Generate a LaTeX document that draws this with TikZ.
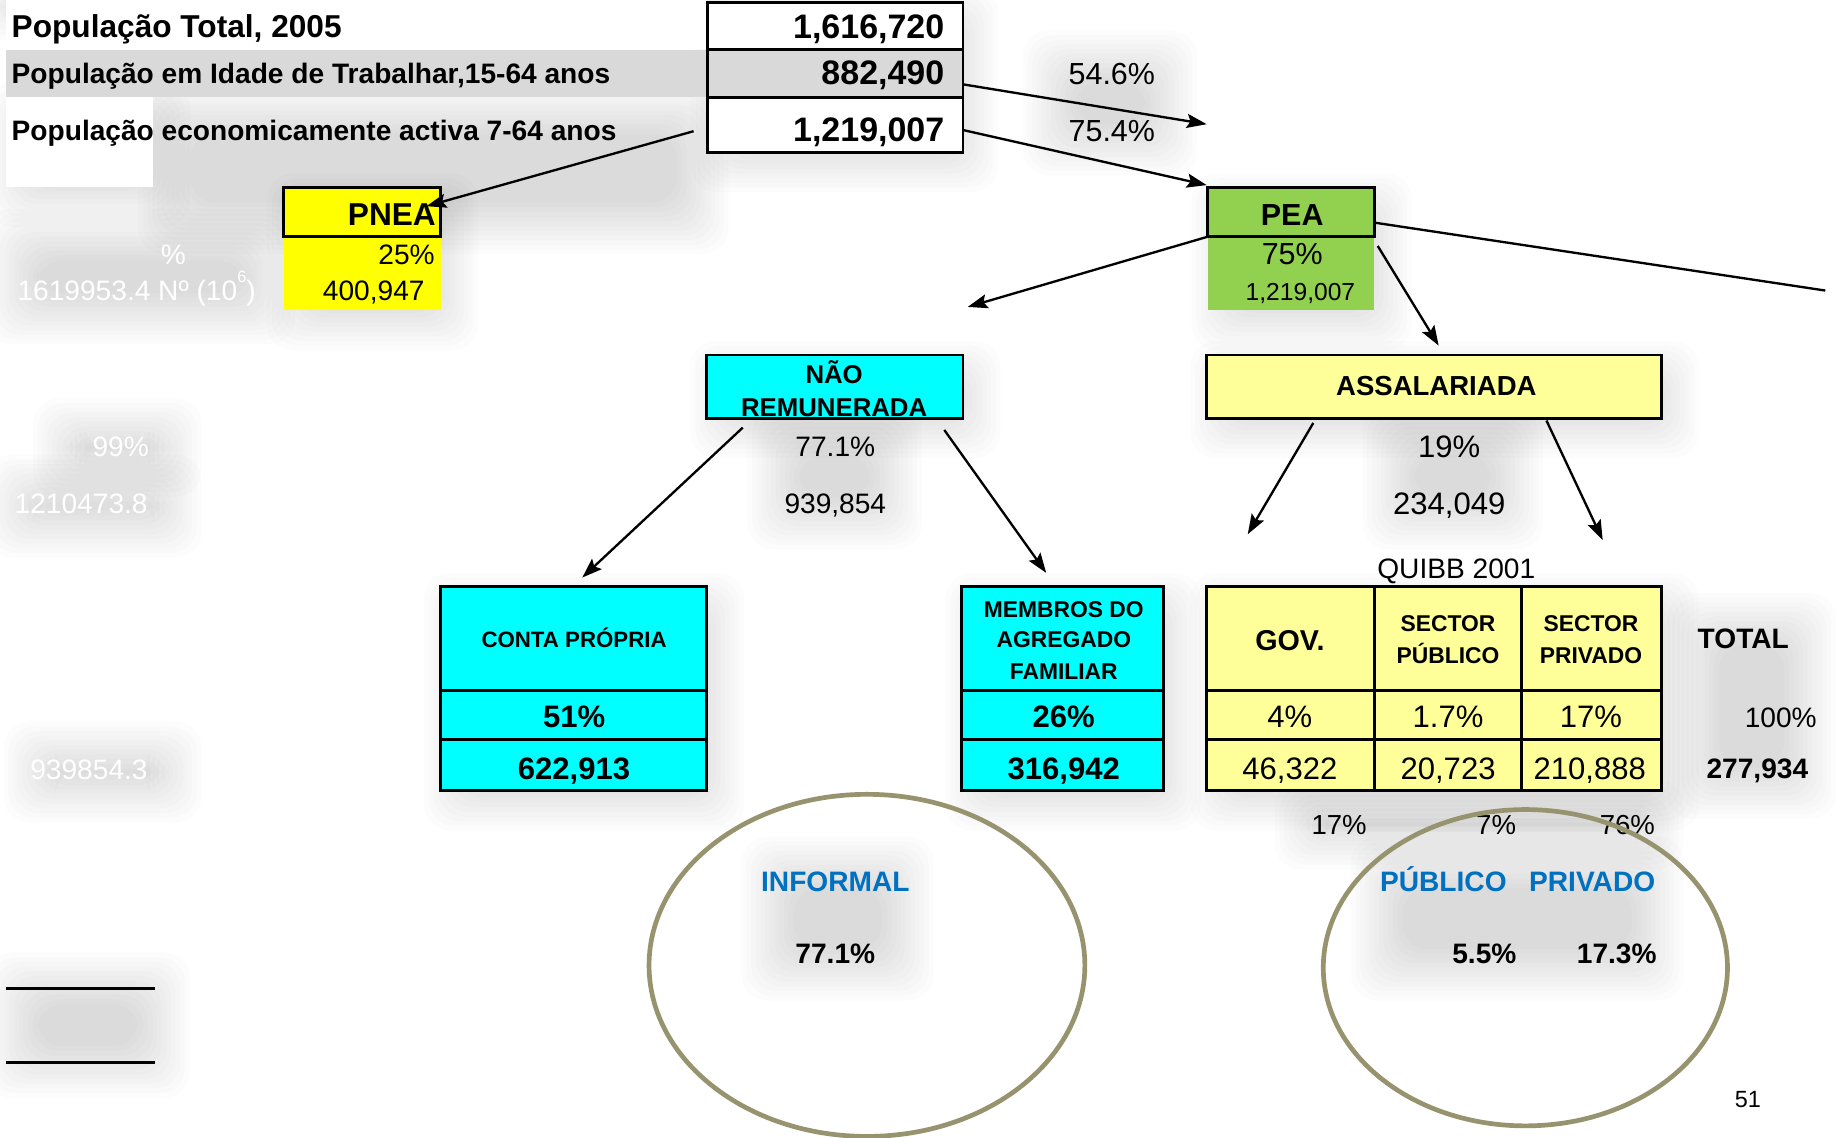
\documentclass[tikz,border=0pt]{standalone}
\usepackage{fontspec}
\setmainfont{Liberation Sans}
\usetikzlibrary{arrows.meta,shapes.geometric}
\definecolor{cybox}{HTML}{00FFFF}
\definecolor{yebox}{HTML}{FFFF00}
\definecolor{lybox}{HTML}{FFFF99}
\definecolor{grbox}{HTML}{92D050}
\definecolor{gyband}{HTML}{D9D9D9}
\definecolor{ringc}{HTML}{96936E}
\definecolor{bluet}{HTML}{0070C0}
\newcommand{\myfs}[1]{\fontsize{#1}{#1}\selectfont}
\newcommand{\sshadow}[4]{%
  \foreach \d in {0,...,11}{%
    \fill[black,opacity=0.012,rounded corners=22pt] ({#1+\d*4-22},{#2+\d*4-22}) rectangle ({#3-\d*4+22},{#4-\d*4+22});
  }}
\begin{document}
\begin{tikzpicture}[x=1pt,y=-1pt,
  every node/.style={inner sep=0pt,outer sep=0pt},
  boxst/.style={draw=black,line width=2.5pt},
  arr/.style={-{Stealth[length=17pt,width=12pt,inset=3pt]},line width=2pt},
  ringst/.style={draw=ringc,line width=4pt,ellipse},
  bl/.style={font=\myfs{#1}\bfseries,text height={0.72*#1},text depth=0pt},
  rg/.style={font=\myfs{#1},text height={0.72*#1},text depth=0pt},
  wt/.style={font=\myfs{#1},text=white,text height={0.72*#1},text depth=0pt}]
\useasboundingbox (0,0) rectangle (1568,971);
\fill[white] (0,0) rectangle (1568,971);
% ---------- soft shadows ----------
\sshadow{0}{0}{600}{12}
\sshadow{140}{92}{600}{195}
\sshadow{12}{92}{140}{172}
\sshadow{612}{10}{830}{142}
\sshadow{250}{170}{386}{277}
\sshadow{10}{200}{230}{272}
\sshadow{50}{362}{150}{402}
\sshadow{10}{410}{150}{454}
\sshadow{25}{638}{150}{680}
\sshadow{1039}{170}{1183}{277}
\sshadow{611}{313}{832}{369}
\sshadow{1038}{313}{1428}{369}
\sshadow{384}{511}{613}{687}
\sshadow{829}{511}{1003}{687}
\sshadow{1038}{511}{1428}{687}
\sshadow{1445}{528}{1545}{677}
\sshadow{10}{835}{140}{915}
\sshadow{895}{48}{1000}{128}
\sshadow{660}{366}{765}{447}
\sshadow{1185}{366}{1295}{447}
\sshadow{655}{736}{775}{832}
\sshadow{1175}{736}{1415}{832}
\sshadow{1110}{688}{1415}{720}
% ---------- top table ----------
\fill[white] (5,0) rectangle (603,42);
\fill[gyband] (5,43) rectangle (603,83);
\fill[white] (5,83) rectangle (131,160);
\node[anchor=west,bl=27] (r1) at (10,22) {População Total, 2005};
\node[anchor=west,bl=24] (r2) at (10,63) {População em Idade de Trabalhar,15-64 anos};
\node[anchor=west,bl=24] (r3) at (10,111) {População economicamente activa 7-64 anos};
\node[boxst,fill=white,minimum width=218,minimum height=40] (v1) at (713,22) {};
\node[boxst,fill=gyband,minimum width=218,minimum height=41] (v2) at (713,62.5) {};
\node[boxst,fill=white,minimum width=218,minimum height=47] (v3) at (713,106.5) {};
\node[anchor=east,bl=29] (v1t) at (806,22) {1,616,720};
\node[anchor=east,bl=29] (v2t) at (806,62) {882,490};
\node[anchor=east,bl=29] (v3t) at (806,110) {1,219,007};
\node[rg=26] (p546) at (949,63) {54.6\%};
\node[rg=26] (p754) at (949,111) {75.4\%};
% ---------- PNEA ----------
\fill[yebox] (242,202) rectangle (376,265);
\node[boxst,fill=yebox,minimum width=134,minimum height=42] (pnea) at (309,181) {};
\node[anchor=east,bl=27] (pneat) at (372,183) {PNEA};
\node[anchor=east,rg=24] (pnea1) at (371,217) {25\%};
\node[rg=24] (pnea2) at (319,248) {400,947};
% white labels
\node[wt=24] (w1) at (148,217) {\%};
\node[anchor=west,wt=24] (w2) at (15,248) {1619953.4 Nº (10\raisebox{1.2ex}{\myfs{14}6})};
\node[wt=24] (w3) at (103,381) {99\%};
\node[anchor=east,wt=24] (w4) at (126,430) {1210473.8};
\node[anchor=east,wt=24] (w5) at (126,657) {939854.3};
% ---------- PEA ----------
\fill[grbox] (1031,202) rectangle (1173,265);
\node[boxst,fill=grbox,minimum width=142,minimum height=42] (pea) at (1102,181) {};
\node[bl=26] (peat) at (1103,183) {PEA};
\node[rg=26] (pea1) at (1103,216) {75\%};
\node[rg=21] (pea2) at (1110,249) {1,219,007};
% ---------- NR / ASS ----------
\node[boxst,fill=cybox,minimum width=219,minimum height=54] (nr) at (712.5,330) {};
\node[bl=22] (nrt1) at (712,319) {NÃO};
\node[bl=22] (nrt2) at (712,348) {REMUNERADA};
\node[rg=24] (nr1) at (713,381) {77.1\%};
\node[rg=24] (nr2) at (713,430) {939,854};
\node[boxst,fill=lybox,minimum width=388,minimum height=54] (ass) at (1224,330) {};
\node[bl=23.5] (asst) at (1226,329) {ASSALARIADA};
\node[rg=26.5] (ass1) at (1237,381) {19\%};
\node[rg=26.5] (ass2) at (1237,430) {234,049};
\node[rg=24] (quibb) at (1243,485) {QUIBB 2001};
% ---------- CONTA PROPRIA ----------
\node[boxst,fill=cybox,minimum width=227,minimum height=88] (cp1) at (489.5,545) {};
\node[boxst,fill=cybox,minimum width=227,minimum height=42] (cp2) at (489.5,610) {};
\node[boxst,fill=cybox,minimum width=227,minimum height=44] (cp3) at (489.5,653) {};
\node[bl=19] (cp1t) at (490,546) {CONTA PRÓPRIA};
\node[bl=26.5] (cp2t) at (490,611) {51\%};
\node[bl=26.5] (cp3t) at (490,656) {622,913};
% ---------- MEMBROS ----------
\node[boxst,fill=cybox,minimum width=172,minimum height=88] (mb1) at (907,545) {};
\node[boxst,fill=cybox,minimum width=172,minimum height=42] (mb2) at (907,610) {};
\node[boxst,fill=cybox,minimum width=172,minimum height=44] (mb3) at (907,653) {};
\node[bl=19.5] (mb1a) at (908,520) {MEMBROS DO};
\node[bl=19.5] (mb1b) at (908,546) {AGREGADO};
\node[bl=19.5] (mb1c) at (908,573) {FAMILIAR};
\node[bl=26.5] (mb2t) at (908,611) {26\%};
\node[bl=26.5] (mb3t) at (908,656) {316,942};
% ---------- yellow table ----------
\node[boxst,fill=lybox,minimum width=143,minimum height=88] (g1) at (1101.5,545) {};
\node[boxst,fill=lybox,minimum width=143,minimum height=42] (g2) at (1101.5,610) {};
\node[boxst,fill=lybox,minimum width=143,minimum height=44] (g3) at (1101.5,653) {};
\node[boxst,fill=lybox,minimum width=126,minimum height=88] (s1) at (1236,545) {};
\node[boxst,fill=lybox,minimum width=126,minimum height=42] (s2) at (1236,610) {};
\node[boxst,fill=lybox,minimum width=126,minimum height=44] (s3) at (1236,653) {};
\node[boxst,fill=lybox,minimum width=119,minimum height=88] (q1) at (1358.5,545) {};
\node[boxst,fill=lybox,minimum width=119,minimum height=42] (q2) at (1358.5,610) {};
\node[boxst,fill=lybox,minimum width=119,minimum height=44] (q3) at (1358.5,653) {};
\node[bl=24.5] (g1t) at (1101,546) {GOV.};
\node[bl=19.5] (s1a) at (1236,532) {SECTOR};
\node[bl=19.5] (s1b) at (1236,559) {PÚBLICO};
\node[bl=19.5] (q1a) at (1358,532) {SECTOR};
\node[bl=19.5] (q1b) at (1358,559) {PRIVADO};
\node[rg=26.5] (g2t) at (1101,611) {4\%};
\node[rg=26.5] (s2t) at (1236,611) {1.7\%};
\node[rg=26.5] (q2t) at (1358,611) {17\%};
\node[rg=26.5] (g3t) at (1101,656) {46,322};
\node[rg=26.5] (s3t) at (1236,656) {20,723};
\node[rg=26.5] (q3t) at (1357,656) {210,888};
\node[bl=24] (tot) at (1488,545) {TOTAL};
\node[rg=24] (tot1) at (1520,612) {100\%};
\node[bl=24] (tot2) at (1500,656) {277,934};
\node[rg=23.5] (b1) at (1143,704) {17\%};
\node[rg=23.5] (b2) at (1277,704) {7\%};
\node[rg=23.5] (b3) at (1389,704) {76\%};
% ---------- ellipses ----------
\node[bl=24,text=bluet] (inf) at (713,752) {INFORMAL};
\node[bl=24] (inf1) at (713,814) {77.1\%};
\node[bl=24,text=bluet] (pub) at (1232,752) {PÚBLICO};
\node[bl=24,text=bluet] (pri) at (1359,752) {PRIVADO};
\node[bl=24] (pub1) at (1267,814) {5.5\%};
\node[bl=24] (pri1) at (1380,814) {17.3\%};
\node[ringst,minimum width=372,minimum height=292] (e1) at (740,824) {};
\node[ringst,minimum width=345,minimum height=270] (e2) at (1302,826) {};
\node[rg=20] (pg) at (1492,938) {51};
% ---------- connectors ----------
\coordinate (a1s) at (822,72);   \coordinate (a1e) at (1030,106);
\coordinate (a2s) at (822,111);  \coordinate (a2e) at (1030,158);
\coordinate (a3s) at (592,112);  \coordinate (a3e) at (364,176);
\coordinate (a4s) at (1031,202); \coordinate (a4e) at (826,262);
\coordinate (a5s) at (1176,210); \coordinate (a5e) at (1228,295);
\coordinate (l6s) at (1173,190); \coordinate (l6e) at (1558,248);
\coordinate (a7s) at (634,365);  \coordinate (a7e) at (497,493);
\coordinate (a8s) at (806,367);  \coordinate (a8e) at (893,489);
\coordinate (a9s) at (1121,361); \coordinate (a9e) at (1065,456);
\coordinate (a10s) at (1320,359); \coordinate (a10e) at (1368,461);
\draw[arr] (a1s) -- (a1e);
\draw[arr] (a2s) -- (a2e);
\draw[arr] (a3s) -- (a3e);
\draw[arr] (a4s) -- (a4e);
\draw[arr] (a5s) -- (a5e);
\draw[line width=2pt] (l6s) -- (l6e);
\draw[arr] (a7s) -- (a7e);
\draw[arr] (a8s) -- (a8e);
\draw[arr] (a9s) -- (a9e);
\draw[arr] (a10s) -- (a10e);
\coordinate (h1s) at (5,844); \coordinate (h1e) at (132,844);
\coordinate (h2s) at (5,907); \coordinate (h2e) at (132,907);
\draw[line width=2.5pt] (h1s) -- (h1e);
\draw[line width=2.5pt] (h2s) -- (h2e);
\end{tikzpicture}
\end{document}
